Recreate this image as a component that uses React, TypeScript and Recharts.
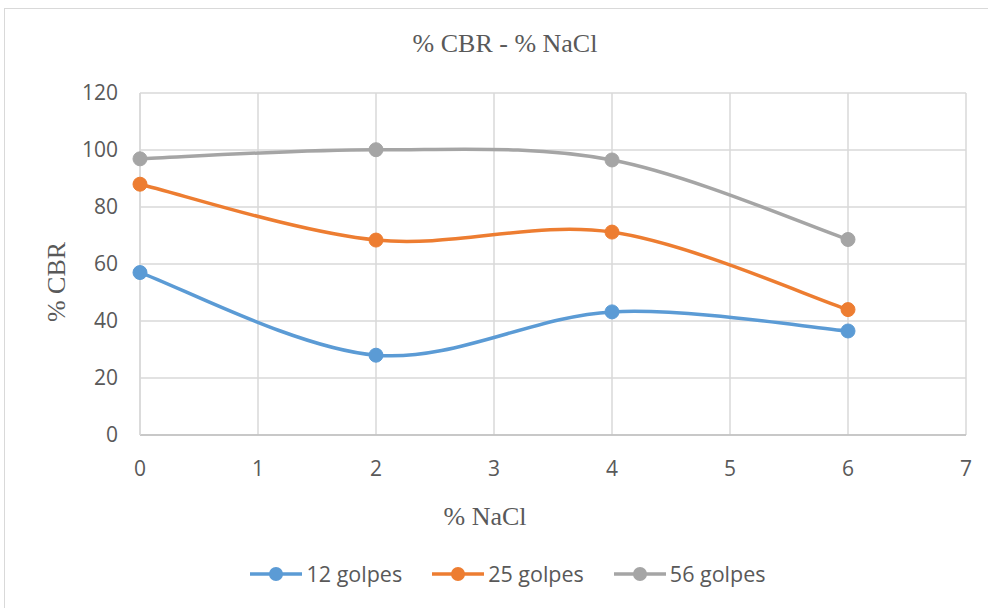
import React from 'react'
import { LineChart, Line, XAxis, YAxis, CartesianGrid, Legend } from 'recharts'

const naclPct = [0, 2, 4, 6]
const golpes12 = [57, 28, 43.2, 36.5]
const golpes25 = [88, 68.4, 71.2, 44]
const golpes56 = [96.9, 100.1, 96.5, 68.6]
const xTicks = [0, 1, 2, 3, 4, 5, 6, 7]
const yTicks = [0, 20, 40, 60, 80, 100, 120]

const seriesInfo = [
  { key: 'g12', name: '12 golpes', color: '#5b9bd5' },
  { key: 'g25', name: '25 golpes', color: '#ed7d31' },
  { key: 'g56', name: '56 golpes', color: '#a5a5a5' },
]

const data = naclPct.map((x, i) => ({ x, g12: golpes12[i], g25: golpes25[i], g56: golpes56[i] }))

// excel style smoothed line (catmull-rom ish bezier)
function smoothCurve(context: any) {
  let pts: number[][] = []
  return {
    areaStart() {},
    areaEnd() {},
    lineStart() { pts = [] },
    point(x: number, y: number) { pts.push([+x, +y]) },
    lineEnd() {
      const n = pts.length
      if (!n) return
      context.moveTo(pts[0][0], pts[0][1])
      for (let i = 0; i < n - 1; i++) {
        const p0 = pts[Math.max(i - 1, 0)]
        const p1 = pts[i]
        const p2 = pts[i + 1]
        const p3 = pts[Math.min(i + 2, n - 1)]
        context.bezierCurveTo(
          p1[0] + (p2[0] - p0[0]) / 6, p1[1] + (p2[1] - p0[1]) / 6,
          p2[0] - (p3[0] - p1[0]) / 6, p2[1] - (p3[1] - p1[1]) / 6,
          p2[0], p2[1]
        )
      }
    },
  }
}

const textColor = '#595959'
const serif = '"Liberation Serif", "Times New Roman", serif'
const sans = '"Open Sans", sans-serif'

function LegendRow() {
  return (
    <div style={{ display: 'flex', justifyContent: 'center', gap: 30, fontFamily: sans, fontSize: 21.5, color: textColor }}>
      {seriesInfo.map(s => (
        <div key={s.key} style={{ display: 'flex', alignItems: 'center', gap: 4 }}>
          <svg width={52} height={16}>
            <line x1={0} y1={8} x2={52} y2={8} stroke={s.color} strokeWidth={3.5} />
            <circle cx={26} cy={8} r={7} fill={s.color} />
          </svg>
          <span>{s.name}</span>
        </div>
      ))}
    </div>
  )
}

export default function App() {
  return (
    <div style={{ position: 'absolute', left: 0, top: 0, width: 988, height: 608, overflow: 'hidden', background: '#fff' }}>
      <div style={{ position: 'absolute', left: 4, top: 8, width: 1000, height: 620, borderLeft: '1.5px solid #d9d9d9', borderTop: '1.5px solid #d9d9d9' }} />
      <div style={{ position: 'absolute', left: 0, width: 1010, top: 29, textAlign: 'center', fontFamily: serif, fontSize: 26, color: textColor }}>
        % CBR - % NaCl
      </div>
      <div style={{ position: 'absolute', left: 385, width: 200, top: 502, textAlign: 'center', fontFamily: serif, fontSize: 26, color: textColor }}>
        % NaCl
      </div>
      <div style={{ position: 'absolute', left: 57, top: 284, width: 0, height: 0 }}>
        <div style={{ position: 'absolute', left: -100, top: -17, width: 200, textAlign: 'center', transform: 'rotate(-90deg)', fontFamily: serif, fontSize: 26, color: textColor }}>
          % CBR
        </div>
      </div>
      <LineChart width={988} height={608} data={data} margin={{ top: 93, right: 22, left: 0, bottom: 0 }} style={{ position: 'absolute', left: 0, top: 0 }}>
        <CartesianGrid stroke="#d9d9d9" strokeWidth={1.5} />
        <XAxis
          dataKey="x"
          type="number"
          domain={[0, 7]}
          ticks={xTicks}
          height={173}
          tickLine={false}
          tickSize={0}
          tickMargin={26}
          axisLine={{ stroke: '#bfbfbf', strokeWidth: 1.5 }}
          tick={{ fill: textColor, fontSize: 21, fontFamily: sans }}
        />
        <YAxis
          type="number"
          domain={[0, 120]}
          ticks={yTicks}
          width={140}
          tickLine={false}
          tickSize={0}
          tickMargin={22}
          axisLine={{ stroke: '#d9d9d9', strokeWidth: 1.5 }}
          tick={{ fill: textColor, fontSize: 21, fontFamily: sans }}
        />
        {seriesInfo.map(s => (
          <Line
            key={s.key}
            dataKey={s.key}
            name={s.name}
            type={smoothCurve as any}
            stroke={s.color}
            strokeWidth={3.5}
            dot={{ r: 7, fill: s.color, stroke: s.color, strokeWidth: 1 }}
            activeDot={false}
            isAnimationActive={false}
          />
        ))}
        <Legend
          verticalAlign="middle"
          align="center"
          layout="horizontal"
          content={() => <LegendRow />}
          wrapperStyle={{ top: 559, left: 14, width: 988 }}
        />
      </LineChart>
    </div>
  )
}
